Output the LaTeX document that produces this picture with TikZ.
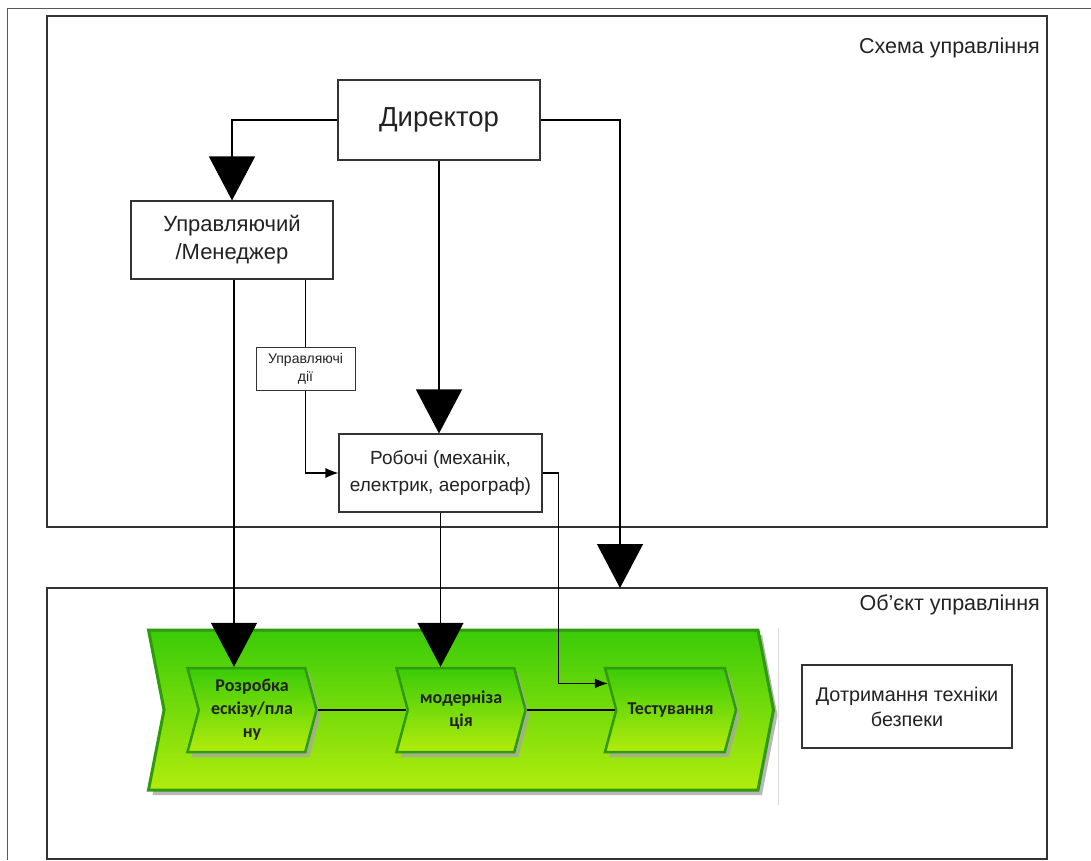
\documentclass[tikz,border=0pt]{standalone}
\usepackage{fontspec}
\setmainfont{Liberation Sans}
\newfontfamily\chevfont{Carlito}
\usetikzlibrary{positioning, shapes.symbols, shadows, arrows.meta}

\definecolor{txt}{HTML}{222222}
\definecolor{frame}{HTML}{333333}
\definecolor{chevline}{HTML}{2E9A0C}
\definecolor{chevtop}{HTML}{3ACB08}
\definecolor{chevbot}{HTML}{B2EC0C}

\tikzset{
  box/.style={draw=frame, line width=1.1pt, fill=white, text=txt, align=center, inner sep=0pt},
  panel/.style={draw=frame, line width=1.4pt, inner sep=0pt},
  title/.style={text=txt, inner sep=0pt, font=\fontsize{21.5}{24}\selectfont},
  lbl/.style={box, line width=0.9pt, minimum width=99pt, minimum height=43pt, font=\fontsize{14}{18}\selectfont},
  bigarr/.style={-{Triangle[length=44pt,width=46pt]}, line width=1.2pt},
  smallarr/.style={-{Latex[length=13pt,width=10pt]}, line width=1.2pt},
  flow/.style={signal, signal to=east, signal from=west, draw=chevline, line width=2.5pt,
    top color=chevtop, bottom color=chevbot, align=center, text=txt, inner sep=0pt,
    drop shadow={shadow xshift=4pt, shadow yshift=-5pt, fill=gray!70, opacity=0.8},
    font=\chevfont\bfseries\fontsize{18}{23}\selectfont}
}

\begin{document}
\begin{tikzpicture}[x=1pt, y=-1pt]
  \useasboundingbox (0,0) rectangle (1091,860);

  % рамки
  \draw[gray!70!black, line width=1pt] (7,860) -- (7,8) -- (1091,8);
  \node[panel, minimum width=1000pt, minimum height=511pt] (ctl) at (547,271.5) {};
  \node[panel, minimum width=1000pt, minimum height=271pt] (obj) at (547,723.5) {};
  \node[title, anchor=east] (ctltitle) at (1040,48) {Схема управління};
  \node[title, anchor=east] (objtitle) at (1040,605) {Об'єкт управління};

  % схема управління
  \node[box, minimum width=202pt, minimum height=80pt, font=\fontsize{27.5}{30}\selectfont] (dir) at (439,120) {Директор};
  \node[box, minimum width=202pt, minimum height=78pt, font=\fontsize{22}{28}\selectfont] (mgr) at (232,240) {Управляючий\\/Менеджер};
  \node[box, minimum width=203pt, minimum height=78pt, font=\fontsize{19}{27}\selectfont] (wrk) at (440.5,473) {Робочі (механік,\\електрик, аерограф)};

  % об'єкт управління
  \draw[gray!30, line width=1pt] (778,628) -- (778,805);
  \node[flow, line width=3pt, minimum width=625pt, minimum height=160pt, signal pointer angle=158] (proc) at (461,710) {};
  \node[flow, minimum width=129pt, minimum height=84pt, signal pointer angle=150] (ch1) at (252,710) {Розробка\\ескізу/пла\\ну};
  \node[flow, minimum width=129pt, minimum height=84pt, signal pointer angle=150] (ch2) at (461,710) {модерніза\\ція};
  \node[flow, minimum width=131pt, minimum height=84pt, signal pointer angle=150] (ch3) at (670.5,710) {Тестування};
  \node[box, minimum width=210pt, minimum height=83pt, font=\fontsize{19.8}{25}\selectfont] (safe) at (907,706.5) {Дотримання техніки\\безпеки};

  \coordinate (objin) at (620,588);

  % стрілки
  \draw[bigarr] (dir.west) -| (mgr.north);
  \draw[bigarr] (dir.south) -- (dir.south |- wrk.north);
  \draw[bigarr] (dir.east) -| (objin);
  \draw[bigarr] ([xshift=2pt]mgr.south) -- ([xshift=2pt]mgr.south |- ch1.north);
  \draw[bigarr] (wrk.south) -- (wrk.south |- ch2.north);

  \draw[smallarr] ([xshift=-28pt]mgr.south east) |- node[lbl, pos=0.23] (act) {Управляючі\\дії} (wrk.west);
  \draw[smallarr] (wrk.east) -- ++(16,0) |- (ch3.157);

  \draw[line width=1.2pt] (ch1.east) -- (ch2.west);
  \draw[line width=1.2pt] (ch2.east) -- (ch3.west);
\end{tikzpicture}
\end{document}
